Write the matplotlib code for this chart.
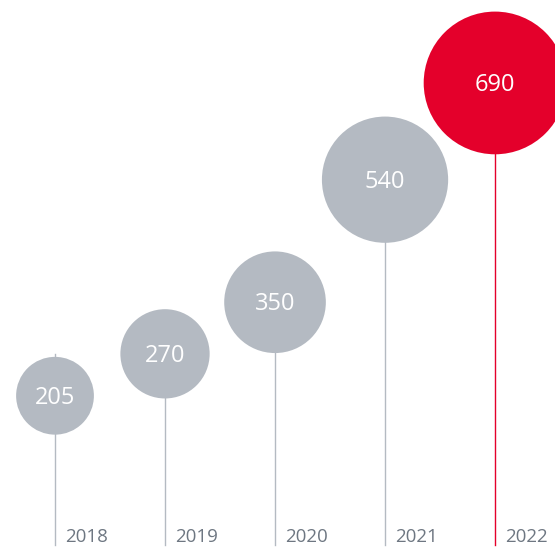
import numpy as np
import matplotlib.pyplot as plt

years = ['2018', '2019', '2020', '2021', '2022']
values = [205, 270, 350, 540, 690]
colors = ['#b4bac2', '#b4bac2', '#b4bac2', '#b4bac2', '#e4002b']
stem_colors = ['#b4bac2', '#b4bac2', '#b4bac2', '#b4bac2', '#e4002b']

plt.rcParams['font.family'] = ['Open Sans', 'DejaVu Sans']

fig = plt.figure(figsize=(5.55, 5.47), dpi=100)
ax = fig.add_axes([0, 0, 1, 1])
ax.set_xlim(-0.5, 4.545)
ax.set_ylim(-29.5, 818.6)
ax.axis('off')

x = np.arange(len(years))
bottom = -26

# stems from the bottom up to (a bit above) each bubble
for i, v in enumerate(values):
    ax.plot([x[i], x[i]], [bottom, v + 64], color=stem_colors[i], lw=1.0, zorder=1)

# bubble area proportional to value
ax.scatter(x, values, s=[15.3 * v for v in values], c=colors, edgecolors='none', zorder=2)

for i, v in enumerate(values):
    ax.text(x[i], v - 3, str(v), color='white', fontsize=17, ha='center', va='center', zorder=3)
    ax.annotate(years[i], (x[i], -29.5), xytext=(7, 0.5), textcoords='offset points',
                color='#6e7782', fontsize=13.5, ha='left', va='bottom')

fig.savefig('out.png', dpi=100)
